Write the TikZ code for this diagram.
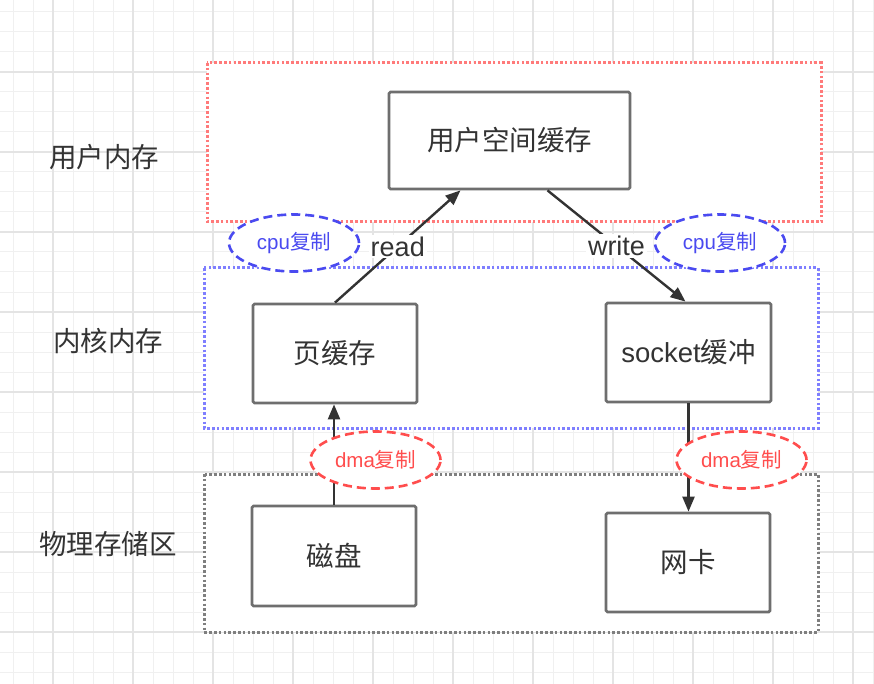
\documentclass[tikz,border=0pt]{standalone}
\usepackage{fontspec}
\setmainfont{Liberation Sans}
\newfontfamily\cjk{Noto Sans CJK SC}
\usetikzlibrary{arrows.meta,shapes.geometric}
\definecolor{gridminor}{HTML}{F0F0F0}
\definecolor{gridmajor}{HTML}{E4E4E4}
\definecolor{boxline}{HTML}{6E6E6E}
\definecolor{txt}{HTML}{333333}
\definecolor{zred}{HTML}{FF7A7A}
\definecolor{zblue}{HTML}{7F7FFF}
\definecolor{zgray}{HTML}{7F7F7F}
\definecolor{eblue}{HTML}{4A4AF0}
\definecolor{ered}{HTML}{FF4D4D}
\tikzset{
  zone/.style={line width=3pt, dash pattern=on 2.6pt off 2.2pt, fill=white},
  membox/.style={draw=boxline, line width=2.8pt, fill=white, rounded corners=1.5pt,
    inner sep=0pt, font=\fontsize{27.5}{32}\selectfont, text=txt},
  sidelabel/.style={font=\fontsize{27.5}{32}\selectfont, text=txt},
  flow/.style={draw=txt, line width=2.4pt, -{Triangle[length=15pt,width=12pt]}},
  flowlabel/.style={fill=white, inner sep=2pt, font=\fontsize{27}{32}\selectfont, text=txt},
  copyell/.style={ellipse, draw, fill=white, line width=2.6pt, dash pattern=on 9pt off 5pt,
    minimum width=130pt, minimum height=57pt, inner sep=0pt, font=\fontsize{20.5}{24}\selectfont},
}
\begin{document}
\begin{tikzpicture}[x=1pt,y=-1pt]
\useasboundingbox (0,0) rectangle (874,684);
\fill[white] (0,0) rectangle (874,684);
% grid
\foreach \gx in {13,33,...,873} \draw[gridminor, line width=1pt] (\gx,0) -- (\gx,684);
\foreach \gy in {12,32,...,683} \draw[gridminor, line width=1pt] (0,\gy) -- (874,\gy);
\foreach \gx in {53,133,...,873} \draw[gridmajor, line width=1.2pt] (\gx,0) -- (\gx,684);
\foreach \gy in {72,152,...,683} \draw[gridmajor, line width=1.2pt] (0,\gy) -- (874,\gy);
% zones
\draw[zone, draw=zred] (207,63) rectangle (821,222);
\draw[zone, draw=zblue] (204,268) rectangle (818,428);
\draw[zone, draw=zgray] (204,474) rectangle (818,632);
% side labels
\node[sidelabel] (lu) at (104,157) {\cjk 用户内存};
\node[sidelabel] (lk) at (108,341) {\cjk 内核内存};
\node[sidelabel] (lp) at (108,544) {\cjk 物理存储区};
% boxes
\node[membox, minimum width=241pt, minimum height=97pt] (user) at (509.5,140.5) {\cjk 用户空间缓存};
\node[membox, minimum width=164pt, minimum height=99pt] (pc) at (335,353.5) {\cjk 页缓存};
\node[membox, minimum width=165pt, minimum height=99pt] (sock) at (688.5,352.5) {socket{\cjk 缓冲}};
\node[membox, minimum width=164pt, minimum height=100pt] (disk) at (334,556) {\cjk 磁盘};
\node[membox, minimum width=164pt, minimum height=99pt] (nic) at (688,562.5) {\cjk 网卡};
% arrows
\draw[flow] (pc.north) -- node[flowlabel] (rd) {read} ([xshift=-49pt]user.south);
\draw[flow] ([xshift=38pt]user.south) -- node[flowlabel] (wr) {write} ([xshift=-3pt]sock.north);
\draw[flow] (disk.north) -- (disk.north |- pc.south);
\draw[flow] (sock.south) -- (sock.south |- nic.north);
% copy ellipses
\node[copyell, draw=eblue, text=eblue] (c1) at (294,243) {cpu{\cjk 复制}};
\node[copyell, draw=eblue, text=eblue] (c2) at (720,243) {cpu{\cjk 复制}};
\node[copyell, draw=ered, text=ered] (d1) at (375.5,460) {dma{\cjk 复制}};
\node[copyell, draw=ered, text=ered] (d2) at (741.5,460) {dma{\cjk 复制}};
\end{tikzpicture}
\end{document}
